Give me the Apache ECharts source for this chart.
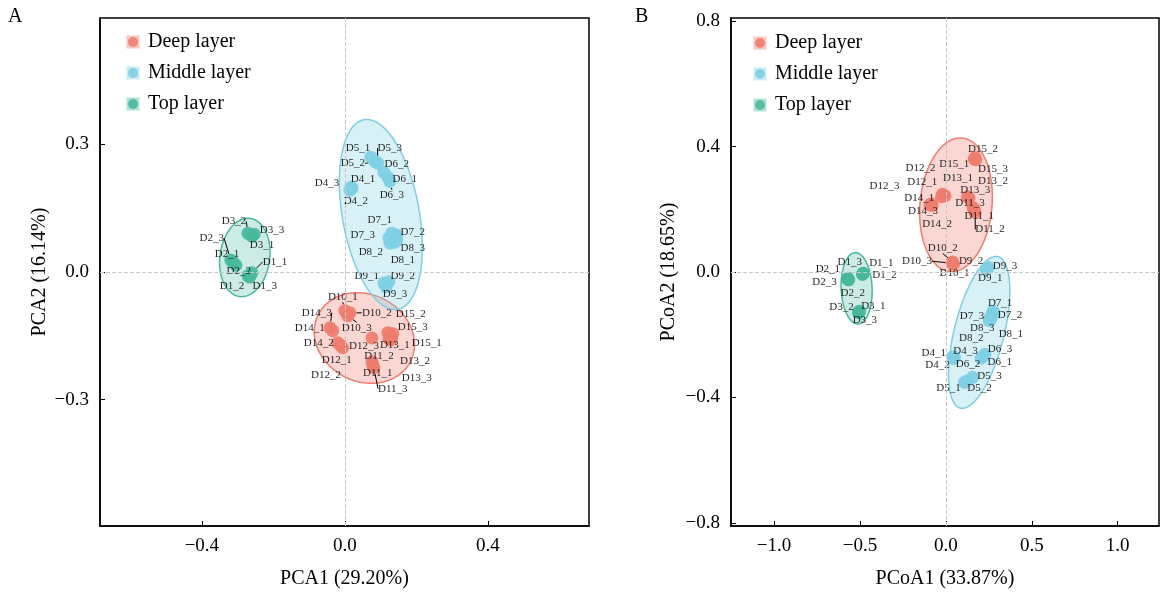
<!DOCTYPE html>
<html>
<head>
<meta charset="utf-8">
<script src="https://cdn.jsdelivr.net/npm/echarts@6/dist/echarts.min.js"></script>
<style>
  html, body { margin: 0; padding: 0; background: #fff; }
  #chart { width: 1160px; height: 594px; }
</style>
</head>
<body>
<div id="chart"></div>
<script>
// groups and sample names
const groups = ['Deep layer', 'Middle layer', 'Top layer']
const deepNames = ['D10_1','D10_2','D10_3','D11_1','D11_2','D11_3','D12_1','D12_2','D12_3',
                   'D13_1','D13_2','D13_3','D14_1','D14_2','D14_3','D15_1','D15_2','D15_3']
const middleNames = ['D4_1','D4_2','D4_3','D5_1','D5_2','D5_3','D6_1','D6_2','D6_3',
                     'D7_1','D7_2','D7_3','D8_1','D8_2','D8_3','D9_1','D9_2','D9_3']
const topNames = ['D1_1','D1_2','D1_3','D2_1','D2_2','D2_3','D3_1','D3_2','D3_3']

// PCA scores [PC1, PC2]
const pcaDeep = [[0.000,-0.091],[0.014,-0.096],[0.008,-0.103],[0.078,-0.220],[0.076,-0.211],[0.081,-0.225],
                 [-0.006,-0.178],[-0.011,-0.173],[0.076,-0.155],[0.126,-0.148],[0.129,-0.159],[0.123,-0.157],
                 [-0.034,-0.138],[-0.020,-0.166],[-0.042,-0.131],[0.134,-0.145],[0.120,-0.143],[0.131,-0.155]]
const pcaMiddle = [[0.020,0.197],[0.014,0.192],[0.017,0.199],[0.073,0.270],[0.084,0.260],[0.092,0.256],
                   [0.120,0.223],[0.109,0.234],[0.126,0.213],[0.131,0.091],[0.145,0.087],[0.123,0.080],
                   [0.140,0.070],[0.126,0.068],[0.145,0.075],[0.109,-0.026],[0.123,-0.023],[0.115,-0.035]]
const pcaTop = [[-0.260,-0.002],[-0.271,-0.009],[-0.266,-0.012],[-0.313,0.023],[-0.305,0.016],[-0.319,0.028],
                [-0.260,0.084],[-0.271,0.091],[-0.254,0.089]]

// PCoA scores [PCoA1, PCoA2]
const pcoaDeep = [[0.045,0.025],[0.040,0.032],[0.036,0.028],[0.165,0.198],[0.170,0.190],[0.158,0.205],
                  [-0.015,0.245],[-0.020,0.248],[-0.025,0.240],[-0.005,0.243],[0.135,0.236],[0.125,0.240],
                  [-0.085,0.218],[-0.080,0.212],[-0.092,0.214],[0.165,0.360],[0.170,0.365],[0.175,0.358]]
const pcoaMiddle = [[0.040,-0.270],[0.045,-0.276],[0.050,-0.272],[0.108,-0.352],[0.120,-0.348],[0.155,-0.336],
                    [0.220,-0.268],[0.205,-0.275],[0.228,-0.262],[0.275,-0.125],[0.280,-0.132],[0.268,-0.135],
                    [0.262,-0.150],[0.252,-0.155],[0.258,-0.146],[0.235,0.008],[0.240,0.012],[0.245,0.015]]
const pcoaTop = [[-0.480,-0.004],[-0.485,-0.008],[-0.483,-0.005],[-0.570,-0.020],[-0.565,-0.025],[-0.572,-0.023],
                 [-0.503,-0.125],[-0.508,-0.128],[-0.506,-0.130]]

// tick labels
const pcaXTicks = [-0.4, 0, 0.4]
const pcaYTicks = [-0.3, 0, 0.3]
const pcoaXTicks = [-1, -0.5, 0, 0.5, 1]
const pcoaYTicks = [-0.8, -0.4, 0, 0.4, 0.8]

// label placement (pixel nudges, like ggrepel)
const nudgeA = {
  D1_1:[23,-11], D1_2:[-16,10], D1_3:[15,9], D2_1:[-6,-8], D2_2:[3,6], D2_3:[-19,-22],
  D3_1:[10,9], D3_2:[-14,-12], D3_3:[18,-4], D4_1:[11,-9], D4_2:[6,11], D4_3:[-24,-4],
  D5_1:[-13,-9], D5_2:[-22,2], D5_3:[12,-15], D6_1:[17,2], D6_2:[13,-8], D6_3:[2,14],
  D7_1:[-12,-13], D7_2:[16,-3], D7_3:[-26,-3], D8_1:[8,18], D8_2:[-19,9], D8_3:[16,8],
  D9_1:[-17,-7], D9_2:[14,-6], D9_3:[9,7], D10_1:[-2,-14], D10_2:[27,0], D10_3:[9,12],
  D11_1:[5,8], D11_2:[7,-6], D11_3:[19,21], D12_1:[-6,12], D12_2:[-15,30], D12_3:[-8,8],
  D13_1:[5,10], D13_2:[24,21], D13_3:[28,39], D14_1:[-23,-3], D14_2:[-19,0], D14_3:[-13,-15],
  D15_1:[34,9], D15_2:[23,-19], D15_3:[21,-11]
}
const nudgeB = {
  D1_1:[18,-10], D1_2:[22,1], D1_3:[-13,-11], D2_1:[-20,-9], D2_2:[4,13], D2_3:[-23,3],
  D3_1:[14,-5], D3_2:[-17,-5], D3_3:[6,7], D4_1:[-19,-4], D4_2:[-16,7], D4_3:[11,-6],
  D5_1:[-16,6], D5_2:[13,7], D5_3:[17,-1], D6_1:[16,6], D6_2:[-13,6], D6_3:[15,-5],
  D7_1:[7,-8], D7_2:[16,2], D7_3:[-20,2], D8_1:[20,15], D8_2:[-18,18], D8_3:[-8,10],
  D9_1:[4,9], D9_2:[-16,-7], D9_3:[17,-1], D10_1:[1,9], D10_2:[-10,-14], D10_3:[-35,-2],
  D11_1:[5,6], D11_2:[15,17], D11_3:[-3,-5], D12_1:[-21,-13], D12_2:[-22,-26], D12_3:[-57,-11],
  D13_1:[13,-18], D13_2:[24,-17], D13_3:[8,-7], D14_1:[-12,-6], D14_2:[5,19], D14_3:[-7,6],
  D15_1:[-20,5], D15_2:[8,-8], D15_3:[17,9]
}
const leaderA = ['D1_1','D2_3','D3_2','D5_2','D5_3','D6_3','D10_1','D10_2','D10_3','D11_3','D14_3']
const leaderB = ['D5_2','D7_3','D9_3','D10_2','D10_3','D11_2']

const colors = ['#F07C6C', '#7ECFE4', '#47B89D']
const fills = ['rgba(240,124,108,0.3)', 'rgba(126,207,228,0.3)', 'rgba(71,184,157,0.28)']
const keyFills = ['rgba(240,124,108,0.45)', 'rgba(126,207,228,0.45)', 'rgba(71,184,157,0.45)']
const serif = 'Liberation Serif'
// ellipse radii (major, minor) in standard deviations, per panel
const ellScale = [[2.15, 2.9], [1.98, 2.35]]

// covariance ellipse around a group
function ellipse(pts, ka, kb, n) {
  const m = pts.length
  let mx = 0, my = 0
  pts.forEach(p => { mx += p[0]; my += p[1] })
  mx /= m; my /= m
  let sxx = 0, syy = 0, sxy = 0
  pts.forEach(p => {
    const dx = p[0] - mx, dy = p[1] - my
    sxx += dx * dx; syy += dy * dy; sxy += dx * dy
  })
  sxx /= (m - 1); syy /= (m - 1); sxy /= (m - 1)
  const tr = (sxx + syy) / 2
  const d = Math.sqrt(((sxx - syy) / 2) ** 2 + sxy * sxy)
  const a = ka * Math.sqrt(tr + d), b = kb * Math.sqrt(Math.max(tr - d, 0))
  const ang = 0.5 * Math.atan2(2 * sxy, sxx - syy)
  const out = []
  for (let i = 0; i < n; i++) {
    const t = 2 * Math.PI * i / n
    const ex = a * Math.cos(t), ey = b * Math.sin(t)
    out.push([mx + ex * Math.cos(ang) - ey * Math.sin(ang), my + ex * Math.sin(ang) + ey * Math.cos(ang)])
  }
  return out
}

const fmt = v => (v < 0 ? '\u2212' : '') + Math.abs(v).toFixed(1)

// legend key: pale square with the point on top
function keyIcon(gi) {
  const svg = "<svg xmlns='http://www.w3.org/2000/svg' width='28' height='28'>" +
    "<rect x='1' y='1' width='26' height='26' fill='" + keyFills[gi] + "'/>" +
    "<circle cx='14' cy='14' r='10' fill='" + colors[gi] + "'/></svg>"
  return 'image://data:image/svg+xml;charset=utf-8,' + encodeURIComponent(svg)
}

function ellipseSeries(pts, gi, panel) {
  const ring = ellipse(pts, ellScale[panel][0], ellScale[panel][1], 120)
  const s = {
    type: 'custom',
    name: groups[gi],
    xAxisIndex: panel, yAxisIndex: panel,
    silent: true, z: 1,
    itemStyle: { color: colors[gi] },
    data: [pts[0]],
    renderItem: (params, api) => ({
      type: 'polygon',
      shape: { points: ring.map(p => api.coord(p)) },
      style: { fill: fills[gi], stroke: colors[gi], lineWidth: 1.5 }
    })
  }
  if (gi === 0) {
    s.markLine = {
      silent: true, symbol: ['none', 'none'], label: { show: false },
      lineStyle: { type: 'dashed', color: '#c8c8c8', width: 1 },
      data: [{ xAxis: 0 }, { yAxis: 0 }]
    }
  }
  return s
}

function pointSeries(pts, names, gi, panel, nudge, leaders) {
  return {
    type: 'scatter',
    name: groups[gi],
    xAxisIndex: panel, yAxisIndex: panel,
    z: 3,
    symbolSize: 13,
    itemStyle: { color: colors[gi], opacity: 0.92 },
    label: { show: true, position: 'inside', formatter: '{b}', fontFamily: serif, fontSize: 11, color: '#111' },
    labelLine: { show: false, lineStyle: { color: '#000', width: 1 } },
    labelLayout: params => {
      const off = nudge[names[params.dataIndex]] || [0, 0]
      return { dx: off[0], dy: off[1] }
    },
    data: pts.map((p, i) => ({
      name: names[i], value: p,
      labelLine: { show: leaders.indexOf(names[i]) >= 0 }
    }))
  }
}

function valueAxis(idx, min, max, ticks, name, nameGap) {
  return {
    type: 'value', gridIndex: idx, min: min, max: max,
    name: name, nameLocation: 'middle', nameGap: nameGap,
    nameTextStyle: { fontFamily: serif, fontSize: 20, color: '#000' },
    axisLine: { onZero: false, lineStyle: { color: '#000', width: 1.5 } },
    axisTick: { inside: true, length: 5, customValues: ticks, lineStyle: { color: '#000' } },
    axisLabel: { customValues: ticks, formatter: fmt, fontFamily: serif, fontSize: 19, color: '#000', margin: 11 },
    splitLine: { show: false }
  }
}

const chart = echarts.init(document.getElementById('chart'))
const legendBase = {
  orient: 'vertical', itemWidth: 14, itemHeight: 14, itemGap: 11,
  data: groups.map((g, i) => ({ name: g, icon: keyIcon(i) })),
  textStyle: { fontFamily: serif, fontSize: 20, color: '#000', lineHeight: 20, padding: [0, 0, 0, 3] }
}
chart.setOption({
  animation: false,
  backgroundColor: '#fff',
  title: [
    { text: 'A', left: 3, top: 2, textStyle: { fontFamily: serif, fontSize: 20, fontWeight: 'normal', color: '#000' } },
    { text: 'B', left: 630, top: 2, textStyle: { fontFamily: serif, fontSize: 20, fontWeight: 'normal', color: '#000' } }
  ],
  legend: [
    Object.assign({ left: 121, top: 27 }, legendBase),
    Object.assign({ left: 748, top: 28 }, legendBase)
  ],
  grid: [
    { left: 100, top: 18, width: 489, height: 509, show: true, borderColor: '#000', borderWidth: 1.5, backgroundColor: 'transparent' },
    { left: 731, top: 18, width: 428, height: 509, show: true, borderColor: '#000', borderWidth: 1.5, backgroundColor: 'transparent' }
  ],
  xAxis: [
    valueAxis(0, -0.685, 0.683, pcaXTicks, 'PCA1 (29.20%)', 43),
    valueAxis(1, -1.25, 1.24, pcoaXTicks, 'PCoA1 (33.87%)', 43)
  ],
  yAxis: [
    valueAxis(0, -0.597, 0.597, pcaYTicks, 'PCA2 (16.14%)', 50),
    valueAxis(1, -0.81, 0.81, pcoaYTicks, 'PCoA2 (18.65%)', 52)
  ],
  series: [
    pointSeries(pcaDeep, deepNames, 0, 0, nudgeA, leaderA),
    pointSeries(pcaMiddle, middleNames, 1, 0, nudgeA, leaderA),
    pointSeries(pcaTop, topNames, 2, 0, nudgeA, leaderA),
    pointSeries(pcoaDeep, deepNames, 0, 1, nudgeB, leaderB),
    pointSeries(pcoaMiddle, middleNames, 1, 1, nudgeB, leaderB),
    pointSeries(pcoaTop, topNames, 2, 1, nudgeB, leaderB),
    ellipseSeries(pcaDeep, 0, 0),
    ellipseSeries(pcaMiddle, 1, 0),
    ellipseSeries(pcaTop, 2, 0),
    ellipseSeries(pcoaDeep, 0, 1),
    ellipseSeries(pcoaMiddle, 1, 1),
    ellipseSeries(pcoaTop, 2, 1)
  ]
})
</script>
</body>
</html>
